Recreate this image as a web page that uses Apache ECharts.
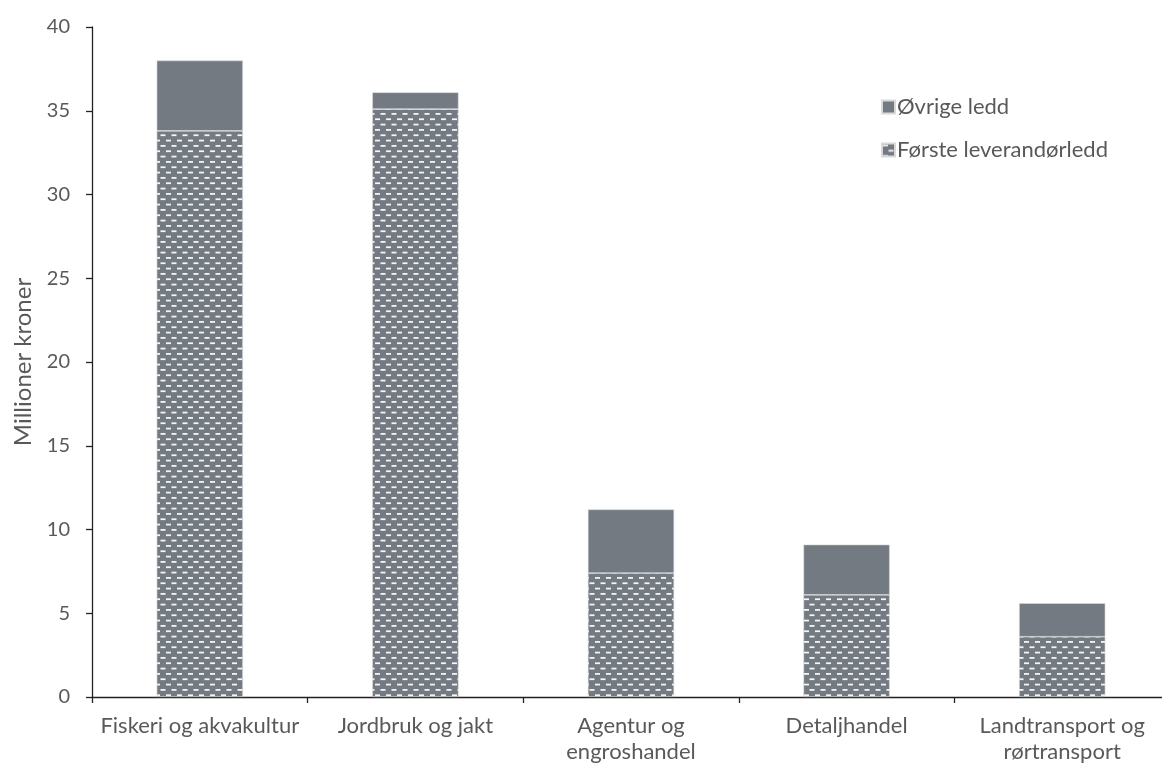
<!DOCTYPE html>
<html><head><meta charset="utf-8">
<script src="https://cdn.jsdelivr.net/npm/echarts@6/dist/echarts.min.js"></script>
<style>html,body{margin:0;padding:0;background:#fff;overflow:hidden}#c{width:1174px;height:768px}</style>
</head><body><div id="c"></div>
<script>
const categories = ['Fiskeri og akvakultur', 'Jordbruk og jakt', 'Agentur og\nengroshandel', 'Detaljhandel', 'Landtransport og\nrørtransport'];
const forsteLeverandorledd = [33.8, 35.1, 7.4, 6.1, 3.6];
const ovrigeLedd = [4.2, 1.0, 3.8, 3.0, 2.0];
const yTicks = [0, 5, 10, 15, 20, 25, 30, 35, 40];

const GRAY = '#737a81';
const TXT = '#595959';
const FONT = 'Lato, "Open Sans", sans-serif';

function makePattern() {
  const cv = document.createElement('canvas');
  cv.width = 11; cv.height = 32;
  const g = cv.getContext('2d');
  g.fillStyle = GRAY; g.fillRect(0, 0, 11, 32);
  g.fillStyle = 'rgba(255,255,255,0.92)';
  for (let r = 0; r < 6; r++) {
    const y = r * 32 / 6 + 1;
    const off = (r % 2) ? 5.5 : 0;
    g.fillRect(off + 1, y, 5, 1.8);
    g.fillRect(off + 1 - 11, y, 5, 1.8);
  }
  return cv;
}
const pattern = { image: makePattern(), repeat: 'repeat' };

const chart = echarts.init(document.getElementById('c'), null, { renderer: 'canvas' });
chart.setOption({
  animation: false,
  backgroundColor: '#fff',
  textStyle: { fontFamily: FONT, color: TXT },
  grid: { left: 92, top: 27, width: 1078, height: 670, containLabel: false },
  legend: {
    orient: 'vertical', left: 876, top: 91, itemGap: 21,
    itemWidth: 13, itemHeight: 13, icon: 'rect',
    textStyle: { fontFamily: FONT, fontSize: 22, color: TXT, padding: [0, 0, 0, -3] },
    data: ['Øvrige ledd', 'Første leverandørledd']
  },
  xAxis: {
    type: 'category', data: categories,
    axisLine: { lineStyle: { color: '#222', width: 1.3 } },
    axisTick: { show: true, length: 6, lineStyle: { color: '#222', width: 1.3 } },
    axisLabel: { fontFamily: FONT, fontSize: 22, color: TXT, margin: 16, lineHeight: 26, interval: 0 }
  },
  yAxis: {
    type: 'value', min: 0, max: 40, interval: 5,
    name: 'Millioner kroner', nameLocation: 'middle', nameGap: 57,
    nameTextStyle: { fontFamily: FONT, fontSize: 24, color: TXT },
    axisLine: { show: true, lineStyle: { color: '#222', width: 1.3 } },
    axisTick: { show: true, length: 6, lineStyle: { color: '#222', width: 1.3 } },
    axisLabel: { fontFamily: FONT, fontSize: 20, color: TXT, margin: 22,
      formatter: v => yTicks.includes(v) ? String(v) : '' },
    splitLine: { show: false }
  },
  series: [
    { name: 'Første leverandørledd', type: 'bar', stack: 's', data: forsteLeverandorledd,
      barWidth: '40%', itemStyle: { color: pattern, borderColor: '#d9d9d9', borderWidth: 0.6 } },
    { name: 'Øvrige ledd', type: 'bar', stack: 's', data: ovrigeLedd,
      barWidth: '40%', itemStyle: { color: GRAY, borderColor: '#d9d9d9', borderWidth: 0.6 } }
  ]
});
</script></body></html>
